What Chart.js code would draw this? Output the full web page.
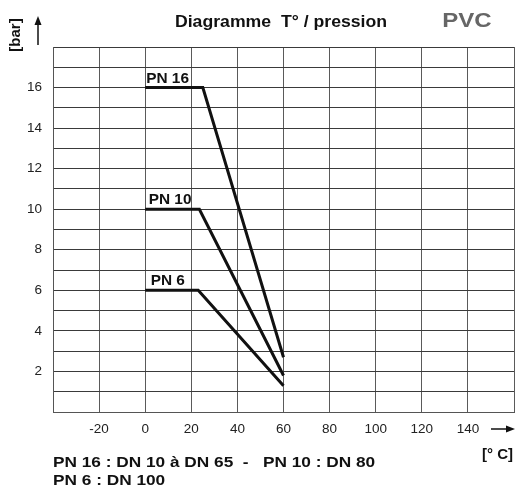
<!DOCTYPE html>
<html>
<head>
<meta charset="utf-8">
<script src="https://cdn.jsdelivr.net/npm/chart.js@4"></script>
<style>
html,body{margin:0;padding:0;background:#fff;}
#wrap{width:518px;height:486px;position:relative;}
</style>
</head>
<body>
<div id="wrap"><canvas id="c" width="518" height="486"></canvas></div>
<script>
// ---- data ----
const seriesNames = ["PN 16", "PN 10", "PN 6"];
const pn16Temp = [0, 25, 60];
const pn16Bar  = [16, 16, 2.7];
const pn10Temp = [0, 23.5, 60];
const pn10Bar  = [10, 10, 1.8];
const pn6Temp  = [0, 23, 60];
const pn6Bar   = [6, 6, 1.3];
const xTickLabels = [-20, 0, 20, 40, 60, 80, 100, 120, 140];
const yTickLabels = [2, 4, 6, 8, 10, 12, 14, 16];
const titleText = "Diagramme  T° / pression";
const materialText = "PVC";
const yUnit = "[bar]";
const xUnit = "[° C]";
const noteLine1 = "PN 16 : DN 10 à DN 65  -   PN 10 : DN 80";
const noteLine2 = "PN 6 : DN 100";

const FONT = "'Liberation Sans', Arial, Helvetica, sans-serif";
function pts(xs, ys){ return xs.map((x,i)=>({x:x, y:ys[i]})); }

const lineStyle = {borderColor:'#111', borderWidth:3, pointRadius:0, tension:0, fill:false, borderJoinStyle:'miter', borderCapStyle:'butt'};

// draw text stretched horizontally (reference face is wider than Arial)
function wideText(ctx, txt, x, y, sx, align){
  ctx.save();
  ctx.translate(x, y);
  ctx.scale(sx, 1);
  ctx.textAlign = align;
  ctx.fillText(txt, 0, 0);
  ctx.restore();
}

const decor = {
  id:'decor',
  afterDatasetsDraw(chart){
    const ctx = chart.ctx;
    const xs = chart.scales.x, ys = chart.scales.y;
    ctx.save();
    ctx.fillStyle = '#111';
    ctx.font = 'bold 14px ' + FONT;
    ctx.textBaseline = 'alphabetic';
    const firsts = [[pn16Temp[0], pn16Bar[0], 1],[pn10Temp[0], pn10Bar[0], 3.5],[pn6Temp[0], pn6Bar[0], 5.5]];
    firsts.forEach((f,i)=>{
      wideText(ctx, seriesNames[i], xs.getPixelForValue(f[0]) + f[2], ys.getPixelForValue(f[1]) - 5, 1.1, 'left');
    });
    ctx.restore();
  },
  afterDraw(chart){
    const ctx = chart.ctx;
    ctx.save();
    ctx.fillStyle = '#111';
    ctx.textBaseline = 'alphabetic';
    // title
    ctx.font = 'bold 16.5px ' + FONT;
    wideText(ctx, titleText, 281, 27, 1.07, 'center');
    // PVC
    ctx.fillStyle = '#666';
    ctx.font = 'bold 20px ' + FONT;
    wideText(ctx, materialText, 467, 27, 1.2, 'center');
    // [bar] rotated
    ctx.fillStyle = '#111';
    ctx.save();
    ctx.translate(20, 35);
    ctx.rotate(-Math.PI/2);
    ctx.font = 'bold 15px ' + FONT;
    ctx.textAlign = 'center';
    ctx.fillText(yUnit, 0, 0);
    ctx.restore();
    // up arrow
    ctx.strokeStyle = '#111';
    ctx.lineWidth = 1.5;
    ctx.beginPath(); ctx.moveTo(38, 45); ctx.lineTo(38, 22); ctx.stroke();
    ctx.beginPath(); ctx.moveTo(38, 16); ctx.lineTo(34.5, 25); ctx.lineTo(41.5, 25); ctx.closePath(); ctx.fill();
    // right arrow
    ctx.beginPath(); ctx.moveTo(491, 429); ctx.lineTo(508, 429); ctx.stroke();
    ctx.beginPath(); ctx.moveTo(515, 429); ctx.lineTo(506, 425.5); ctx.lineTo(506, 432.5); ctx.closePath(); ctx.fill();
    // x unit
    ctx.font = 'bold 15px ' + FONT;
    wideText(ctx, xUnit, 513, 459, 1.0, 'right');
    // notes
    ctx.font = 'bold 15px ' + FONT;
    wideText(ctx, noteLine1, 53, 467, 1.15, 'left');
    wideText(ctx, noteLine2, 53, 485, 1.15, 'left');
    ctx.restore();
  }
};

new Chart(document.getElementById('c'), {
  type:'line',
  data:{
    datasets:[
      Object.assign({label:seriesNames[0], data:pts(pn16Temp, pn16Bar)}, lineStyle),
      Object.assign({label:seriesNames[1], data:pts(pn10Temp, pn10Bar)}, lineStyle),
      Object.assign({label:seriesNames[2], data:pts(pn6Temp, pn6Bar)}, lineStyle)
    ]
  },
  options:{
    responsive:false,
    animation:false,
    devicePixelRatio:1,
    layout:{padding:{left:0, right:4, top:47, bottom:0}},
    plugins:{legend:{display:false}, tooltip:{enabled:false}, title:{display:false}},
    scales:{
      x:{
        type:'linear', min:-40, max:160,
        afterFit(s){ s.height = 74; s.paddingLeft = 0; s.paddingRight = 0; },
        afterBuildTicks(s){ s.ticks = []; for(let v=-40; v<=160; v+=20) s.ticks.push({value:v}); },
        ticks:{
          autoSkip:false, maxRotation:0, padding:9, color:'#222',
          font:{family:FONT, size:13.5},
          callback:(v)=> xTickLabels.includes(v) ? String(v) : ''
        },
        grid:{color:'#5a5a5a', lineWidth:1, drawTicks:false},
        border:{display:true, color:'#555', width:1}
      },
      y:{
        type:'linear', min:0, max:18,
        afterFit(s){ s.width = 53; s.paddingTop = 0; s.paddingBottom = 0; },
        afterBuildTicks(s){ s.ticks = []; for(let v=0; v<=18; v+=1) s.ticks.push({value:v}); },
        ticks:{
          autoSkip:false, padding:11, color:'#222',
          font:{family:FONT, size:13.5},
          callback:(v)=> yTickLabels.includes(v) ? String(v) : ''
        },
        grid:{color:'#3a3a3a', lineWidth:1, drawTicks:false},
        border:{display:true, color:'#555', width:1}
      }
    }
  },
  plugins:[decor]
});
</script>
</body>
</html>
